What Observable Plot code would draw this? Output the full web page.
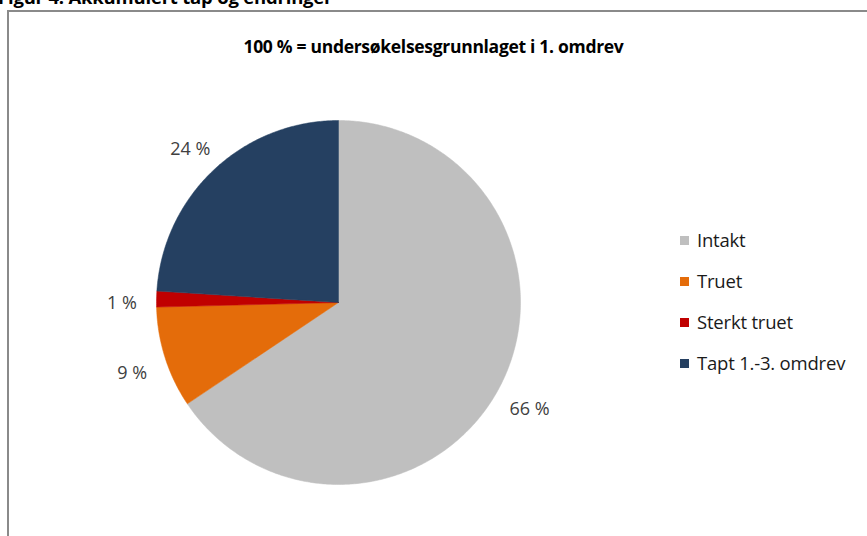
<!DOCTYPE html>
<html><head><meta charset="utf-8">
<script src="https://cdn.jsdelivr.net/npm/d3@7"></script>
<script src="https://cdn.jsdelivr.net/npm/@observablehq/plot@0.6"></script>
<style>
body{margin:0;background:#fff;}
#wrap{position:relative;width:867px;height:536px;overflow:hidden;font-family:"Open Sans",Lato,sans-serif;color:#404040;}
#chart{position:absolute;left:0;top:0;}
#frame{position:absolute;left:7px;top:10px;width:900px;height:600px;border-left:2px solid #8a8a8a;border-top:2px solid #8a8a8a;}
#fig{position:absolute;left:-2px;top:-16px;font-weight:bold;font-size:18.5px;color:#000;white-space:nowrap;letter-spacing:-0.2px;}
#sub{position:absolute;left:0;width:867px;top:34px;text-align:center;font-weight:bold;font-size:17.5px;color:#000;letter-spacing:-0.3px;}
#legend{position:absolute;left:680px;top:227px;}
.row{height:41px;display:flex;align-items:flex-start;font-size:18.5px;line-height:26px;color:#1a1a1a;letter-spacing:-0.2px;}
.sw{width:9px;height:9px;margin-top:9px;margin-right:8px;}
</style></head><body>
<div id="wrap">
<div id="fig">Figur 4: Akkumulert tap og endringer</div>
<div id="frame"></div>
<div id="chart"></div>
<div id="sub">100 % = undersøkelsesgrunnlaget i 1. omdrev</div>
<div id="legend"></div>
</div>
<script>
const categories = ["Intakt", "Truet", "Sterkt truet", "Tapt 1.-3. omdrev"];
const values = [65.6, 9.0, 1.4, 24.0];
const labels = ["66 %", "9 %", "1 %", "24 %"];
const colors = ["#bfbfbf", "#e46c0a", "#c00000", "#254061"];

const W = 867, H = 536, cx = 338, cy = 302, R = 182;
const arcs = d3.pie().sort(null).value(d => d)(values);
const pts = [];
const labelData = [];
arcs.forEach((a, i) => {
  const key = categories[i];
  pts.push({key, x: 0, y: 0});
  const n = Math.max(2, Math.ceil((a.endAngle - a.startAngle) / 0.01));
  for (let k = 0; k <= n; k++) {
    const t = a.startAngle + (a.endAngle - a.startAngle) * k / n;
    pts.push({key, x: Math.sin(t), y: Math.cos(t)});
  }
  pts.push({key, x: 0, y: 0});
  const m = (a.startAngle + a.endAngle) / 2;
  labelData.push({key, label: labels[i], x: 1.19 * Math.sin(m), y: 1.19 * Math.cos(m)});
});

const color = {domain: categories, range: colors};
const plot = Plot.plot({
  width: W, height: H, margin: 0,
  x: {domain: [-cx / R, (W - cx) / R], axis: null},
  y: {domain: [-(H - cy) / R, cy / R], axis: null},
  color,
  style: {background: "transparent", fontFamily: "'Open Sans', Lato, sans-serif"},
  marks: [
    Plot.line(pts, {x: "x", y: "y", z: "key", fill: "key", stroke: "key", strokeWidth: 0.5, curve: "linear"}),
    Plot.text(labelData, {x: "x", y: "y", dy: 5, text: "label", fontSize: 18, fill: "#404040", letterSpacing: "-0.2px"})
  ]
});
document.getElementById("chart").append(plot);

const scale = plot.scale("color");
const lg = document.getElementById("legend");
categories.forEach(c => {
  const row = document.createElement("div");
  row.className = "row";
  const sw = document.createElement("div");
  sw.className = "sw";
  sw.style.background = scale.apply(c);
  const t = document.createElement("span");
  t.textContent = c;
  row.append(sw, t);
  lg.append(row);
});
</script>
</body></html>
